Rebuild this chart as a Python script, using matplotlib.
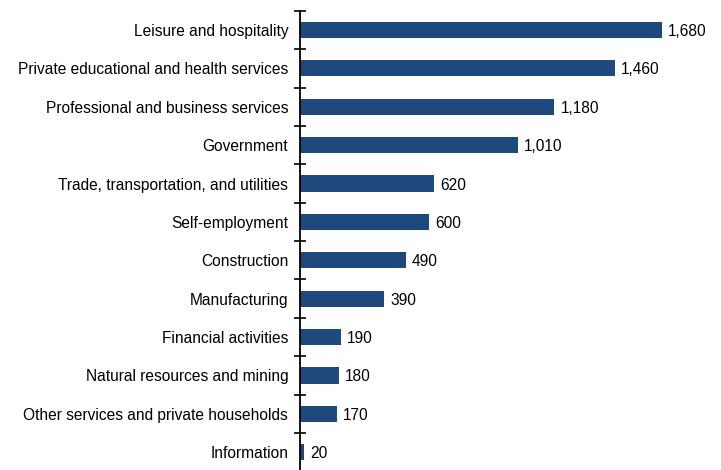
import matplotlib.pyplot as plt
import numpy as np

plt.rcParams['font.family'] = ['Liberation Sans', 'DejaVu Sans']

categories = ['Leisure and hospitality',
              'Private educational and health services',
              'Professional and business services',
              'Government',
              'Trade, transportation, and utilities',
              'Self-employment',
              'Construction',
              'Manufacturing',
              'Financial activities',
              'Natural resources and mining',
              'Other services and private households',
              'Information']
values = [1680, 1460, 1180, 1010, 620, 600, 490, 390, 190, 180, 170, 20]

fig = plt.figure(figsize=(7.21, 4.70), dpi=100)
ax = fig.add_axes([0.416, -0.003, 0.584, 0.98])

ys = np.arange(len(categories))
ax.barh(ys, values, height=0.42, color='#1F497D')
for y, v in zip(ys, values):
    ax.annotate(f'{v:,}', (v, y), xytext=(4.5, 0), textcoords='offset points',
                va='center_baseline', ha='left', fontsize=11.2)

ax.set_ylim(len(categories) - 0.5, -0.5)
ax.set_xlim(0, 1954)
ax.set_yticks(ys)
ax.set_yticklabels(categories, fontsize=11.2, va='center_baseline')
ax.tick_params(axis='y', which='major', length=0, pad=8.5)
ax.set_yticks(np.arange(-0.5, len(categories)), minor=True)
ax.tick_params(axis='y', which='minor', length=9, width=1.2, direction='inout')
ax.set_xticks([])
for s in ['top', 'right', 'bottom']:
    ax.spines[s].set_visible(False)
ax.spines['left'].set_linewidth(1.3)

fig.savefig('out.png', dpi=100)
